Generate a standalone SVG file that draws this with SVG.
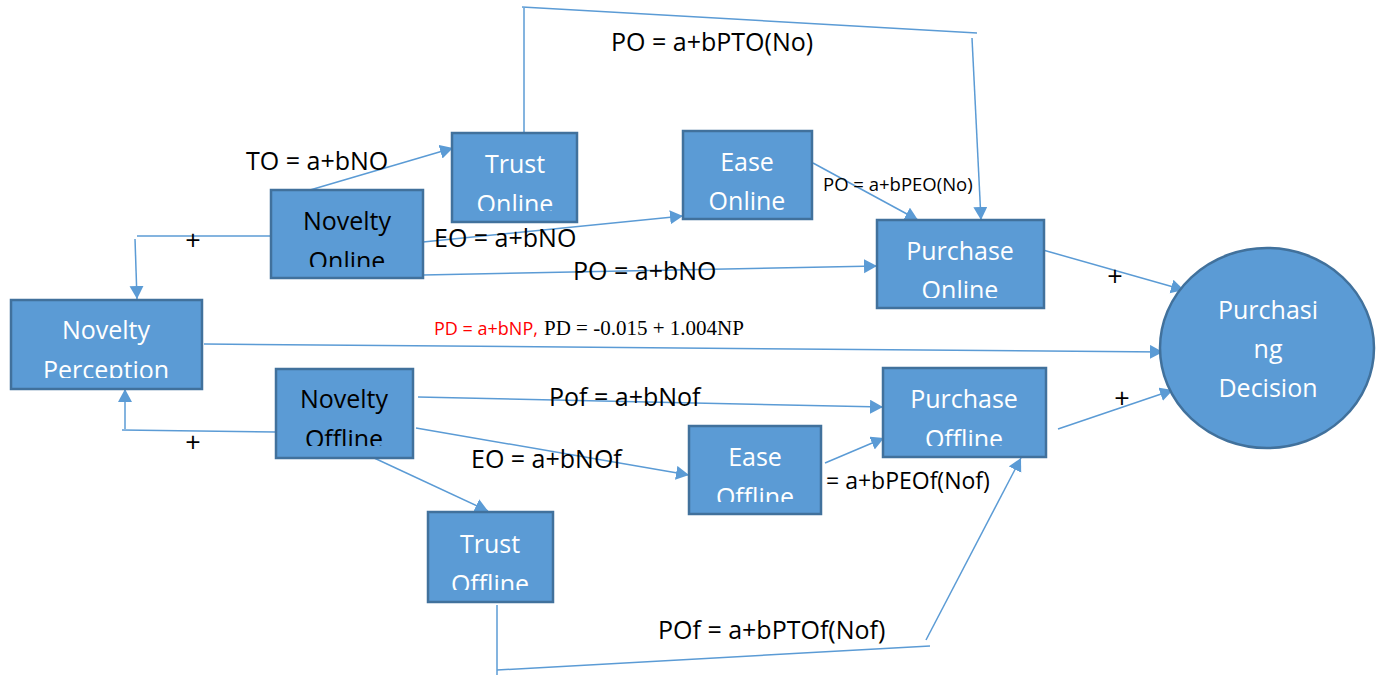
<svg xmlns="http://www.w3.org/2000/svg" width="1382" height="675" viewBox="0 0 1382 675">
<style>
.box{fill:#5B9BD5;stroke:#41719C;stroke-width:2.5}
.t{font-family:"Open Sans","Liberation Sans",sans-serif;font-size:25px;text-anchor:middle}
.w{fill:#FFFFFF}
.k{fill:#000000}
.lbl{font-family:"Open Sans","Liberation Sans",sans-serif;font-size:25px;fill:#000}
.plus{font-family:"Open Sans","Liberation Sans",sans-serif;font-size:27px;fill:#000;text-anchor:middle}
.c{fill:none;stroke:#5B9BD5;stroke-width:1.5}
.a{marker-end:url(#arr)}
</style>
<defs>
<marker id="arr" markerUnits="userSpaceOnUse" markerWidth="15" markerHeight="15" refX="13" refY="7" orient="auto">
<path d="M0,0 L13,7 L0,14 z" fill="#5B9BD5"/>
</marker>
<clipPath id="cTO"><rect x="452" y="133" width="125" height="78"/></clipPath>
<clipPath id="cNO"><rect x="271" y="190" width="152" height="77"/></clipPath>
<clipPath id="cEO"><rect x="683" y="131" width="129" height="80"/></clipPath>
<clipPath id="cPO"><rect x="877" y="220" width="167" height="78"/></clipPath>
<clipPath id="cNP"><rect x="11" y="300" width="191" height="78"/></clipPath>
<clipPath id="cNF"><rect x="276" y="369" width="137" height="77"/></clipPath>
<clipPath id="cEF"><rect x="689" y="426" width="132" height="76"/></clipPath>
<clipPath id="cPF"><rect x="883" y="368" width="163" height="78"/></clipPath>
<clipPath id="cTF"><rect x="428" y="512" width="125" height="78"/></clipPath>
</defs>

<g id="connectors">
<line class="c a" x1="310" y1="190" x2="453" y2="148"/>
<line class="c a" x1="423" y1="242" x2="683" y2="216"/>
<line class="c a" x1="423" y1="275" x2="877" y2="266"/>
<line class="c a" x1="813" y1="163" x2="918" y2="220"/>
<line class="c" x1="524" y1="133" x2="524" y2="8"/>
<line class="c" x1="522" y1="7" x2="977" y2="33"/>
<line class="c a" x1="972" y1="38" x2="981" y2="220"/>
<line class="c" x1="271" y1="236" x2="137" y2="236"/>
<line class="c a" x1="135" y1="239" x2="137" y2="299"/>
<line class="c" x1="276" y1="432" x2="122" y2="430"/>
<line class="c a" x1="125" y1="429" x2="125" y2="389"/>
<line class="c a" x1="204" y1="344" x2="1163" y2="352"/>
<line class="c a" x1="418" y1="397" x2="883" y2="407"/>
<line class="c a" x1="416" y1="428" x2="689" y2="475"/>
<line class="c a" x1="372" y1="457" x2="488" y2="511"/>
<line class="c a" x1="825" y1="463" x2="884" y2="438"/>
<line class="c" x1="497" y1="605" x2="497" y2="675"/>
<line class="c" x1="497" y1="670" x2="930" y2="646"/>
<line class="c a" x1="926" y1="640" x2="1021" y2="458"/>
<line class="c a" x1="1043" y1="250" x2="1184" y2="290"/>
<line class="c a" x1="1058" y1="429" x2="1173" y2="390"/>
</g>

<g id="labels">
<text class="lbl" x="246" y="170">TO = a+bNO</text>
<text class="lbl" x="434" y="247">EO = a+bNO</text>
<text class="lbl" x="573" y="280">PO = a+bNO</text>
<text class="lbl" x="611" y="51">PO = a+bPTO(No)</text>
<text class="lbl" x="823" y="191" style="font-size:18.5px">PO = a+bPEO(No)</text>
<text x="434" y="335"><tspan style="font-family:'Open Sans','Liberation Sans',sans-serif;font-size:18px;fill:#FF0000">PD = a+bNP,</tspan><tspan x="544" style="font-family:'Liberation Serif',serif;font-size:21px;fill:#000">PD =  -0.015 + 1.004NP</tspan></text>
<text class="lbl" x="549" y="406">Pof = a+bNof</text>
<text class="lbl" x="471" y="468">EO = a+bNOf</text>
<text class="lbl" x="826" y="489" style="font-size:23px">= a+bPEOf(Nof)</text>
<text class="lbl" x="658" y="639">POf = a+bPTOf(Nof)</text>
<text class="plus" x="193" y="250">+</text>
<text class="plus" x="193" y="452">+</text>
<text class="plus" x="1115" y="286">+</text>
<text class="plus" x="1122" y="408">+</text>
</g>

<g id="trust-online">
<rect class="box" x="452" y="133" width="125" height="89"/>
<g clip-path="url(#cTO)"><text class="t w" x="515" y="173">Trust</text><text class="t w" x="515" y="213">Online</text></g>
</g>
<g id="novelty-online">
<rect class="box" x="271" y="190" width="152" height="88"/>
<g clip-path="url(#cNO)"><text class="t k" x="347" y="230">Novelty</text><text class="t k" x="347" y="270">Online</text></g>
</g>
<g id="ease-online">
<rect class="box" x="683" y="131" width="129" height="88"/>
<g clip-path="url(#cEO)"><text class="t w" x="747" y="171">Ease</text><text class="t w" x="747" y="210">Online</text></g>
</g>
<g id="purchase-online">
<rect class="box" x="877" y="220" width="167" height="88"/>
<g clip-path="url(#cPO)"><text class="t w" x="960" y="260">Purchase</text><text class="t w" x="960" y="299">Online</text></g>
</g>
<g id="novelty-perception">
<rect class="box" x="11" y="300" width="191" height="89"/>
<g clip-path="url(#cNP)"><text class="t w" x="106" y="339">Novelty</text><text class="t w" x="106" y="379">Perception</text></g>
</g>
<g id="novelty-offline">
<rect class="box" x="276" y="369" width="137" height="89"/>
<g clip-path="url(#cNF)"><text class="t k" x="344" y="408">Novelty</text><text class="t k" x="344" y="448">Offline</text></g>
</g>
<g id="ease-offline">
<rect class="box" x="689" y="426" width="132" height="88"/>
<g clip-path="url(#cEF)"><text class="t w" x="755" y="466">Ease</text><text class="t w" x="755" y="506">Offline</text></g>
</g>
<g id="purchase-offline">
<rect class="box" x="883" y="368" width="163" height="89"/>
<g clip-path="url(#cPF)"><text class="t w" x="964" y="408">Purchase</text><text class="t w" x="964" y="448">Offline</text></g>
</g>
<g id="trust-offline">
<rect class="box" x="428" y="512" width="125" height="90"/>
<g clip-path="url(#cTF)"><text class="t w" x="490" y="553">Trust</text><text class="t w" x="490" y="593">Offline</text></g>
</g>
<g id="purchasing-decision">
<ellipse class="box" cx="1267" cy="348" rx="107" ry="100"/>
<text class="t w" x="1268" y="319">Purchasi</text>
<text class="t w" x="1268" y="358">ng</text>
<text class="t w" x="1268" y="397">Decision</text>
</g>
</svg>
